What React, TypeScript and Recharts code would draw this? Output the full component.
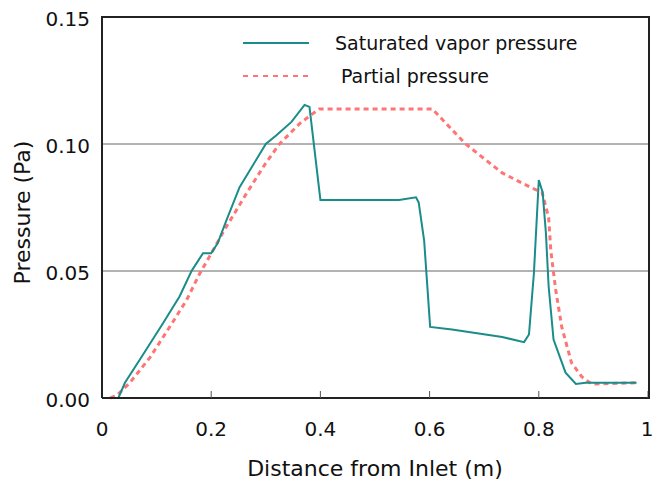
import { LineChart, Line, XAxis, YAxis, ReferenceLine, Legend } from "recharts";

// distance along the duct (m) and pressure (Pa)
const satDistance = [0, 0.03, 0.042, 0.075, 0.112, 0.142, 0.164, 0.173, 0.185, 0.2, 0.212, 0.228, 0.252, 0.3, 0.32, 0.347, 0.371, 0.38, 0.4, 0.544, 0.575, 0.58, 0.59, 0.601, 0.641, 0.733, 0.773, 0.782, 0.791, 0.8, 0.807, 0.813, 0.818, 0.827, 0.849, 0.868, 0.886, 0.979];
const satPressure = [0, 0, 0.006, 0.017, 0.0295, 0.04, 0.05, 0.053, 0.057, 0.057, 0.061, 0.07, 0.083, 0.1, 0.1035, 0.1087, 0.1154, 0.1146, 0.078, 0.078, 0.079, 0.077, 0.062, 0.028, 0.027, 0.024, 0.022, 0.025, 0.049, 0.0858, 0.081, 0.065, 0.044, 0.023, 0.01, 0.0055, 0.006, 0.006];

const partDistance = [0.015, 0.027, 0.051, 0.088, 0.13, 0.155, 0.179, 0.203, 0.221, 0.265, 0.3, 0.325, 0.362, 0.38, 0.398, 0.605, 0.666, 0.733, 0.787, 0.806, 0.818, 0.822, 0.831, 0.842, 0.86, 0.879, 0.897, 0.979];
const partPressure = [0, 0.001, 0.006, 0.016, 0.03, 0.0386, 0.049, 0.058, 0.065, 0.0807, 0.0925, 0.1, 0.108, 0.111, 0.1138, 0.1138, 0.1, 0.0886, 0.0827, 0.081, 0.071, 0.058, 0.0425, 0.028, 0.0138, 0.0083, 0.0055, 0.006];

const xTicks = [0, 0.2, 0.4, 0.6, 0.8, 1];
const yTicks = [0, 0.05, 0.1, 0.15];

const satData = satDistance.map((x, i) => ({ x, y: satPressure[i] }));
const partData = partDistance.map((x, i) => ({ x, y: partPressure[i] }));

const TEAL = "#1a8c8a";
const SALMON = "#ff7474";
const FONT = "'DejaVu Sans', sans-serif";
const frame = { stroke: "#222", strokeWidth: 2 };

function LegendBox() {
  return (
    <div style={{ fontFamily: FONT, fontSize: 19, color: "#111" }}>
      <div style={{ display: "flex", alignItems: "center", height: 30 }}>
        <svg width={66} height={6}>
          <line x1={0} y1={3} x2={66} y2={3} stroke={TEAL} strokeWidth={2} />
        </svg>
        <span style={{ marginLeft: 26 }}>Saturated vapor pressure</span>
      </div>
      <div style={{ display: "flex", alignItems: "center", height: 30, marginTop: 3 }}>
        <svg width={66} height={6}>
          <line x1={0} y1={3} x2={66} y2={3} stroke={SALMON} strokeWidth={2} strokeDasharray="5 5" />
        </svg>
        <span style={{ marginLeft: 32 }}>Partial pressure</span>
      </div>
    </div>
  );
}

export default function App() {
  return (
    <div style={{ position: "absolute", left: 0, top: 0, width: 652, height: 482, background: "#fff" }}>
      <LineChart width={652} height={482} margin={{ top: 17, right: 4, left: 0, bottom: 0 }}>
        <XAxis
          type="number"
          dataKey="x"
          domain={[0, 1]}
          ticks={xTicks}
          tickFormatter={(v: number) => (v === 0 || v === 1 ? String(v) : v.toFixed(1))}
          height={84}
          tickSize={-7}
          tickMargin={31}
          axisLine={frame}
          tickLine={{ stroke: "#555" }}
          tick={{ fontFamily: FONT, fontSize: 20, fill: "#111" }}
          label={{ value: "Distance from Inlet (m)", position: "insideBottom", offset: 6, fontFamily: FONT, fontSize: 22, fill: "#111" }}
        />
        <YAxis
          type="number"
          dataKey="y"
          domain={[0, 0.15]}
          ticks={yTicks}
          tickFormatter={(v: number) => v.toFixed(2)}
          width={102}
          tickSize={0}
          tickMargin={12}
          tickLine={false}
          axisLine={frame}
          tick={{ fontFamily: FONT, fontSize: 20, fill: "#111", dy: 2 }}
          label={{ value: "Pressure (Pa)", angle: -90, position: "insideLeft", offset: 22, dy: 5, fontFamily: FONT, fontSize: 22, fill: "#111", style: { textAnchor: "middle" } }}
        />
        <ReferenceLine y={0.05} stroke="#666" strokeWidth={1} />
        <ReferenceLine y={0.1} stroke="#666" strokeWidth={1} />
        <Legend
          layout="vertical"
          align="center"
          verticalAlign="middle"
          content={() => <LegendBox />}
          wrapperStyle={{ left: 243, top: 28, width: 400 }}
        />
        <Line
          data={partData}
          dataKey="y"
          type="linear"
          stroke={SALMON}
          strokeWidth={3}
          strokeDasharray="5 4"
          dot={false}
          isAnimationActive={false}
        />
        <Line
          data={satData}
          dataKey="y"
          type="linear"
          stroke={TEAL}
          strokeWidth={2}
          dot={false}
          isAnimationActive={false}
        />
      </LineChart>
      {/* top + right edges of the plot frame */}
      <div
        style={{
          position: "absolute",
          left: 101,
          top: 16,
          width: 549,
          height: 383,
          boxSizing: "border-box",
          borderTop: "2px solid #222",
          borderRight: "2px solid #222",
          pointerEvents: "none",
        }}
      />
    </div>
  );
}
